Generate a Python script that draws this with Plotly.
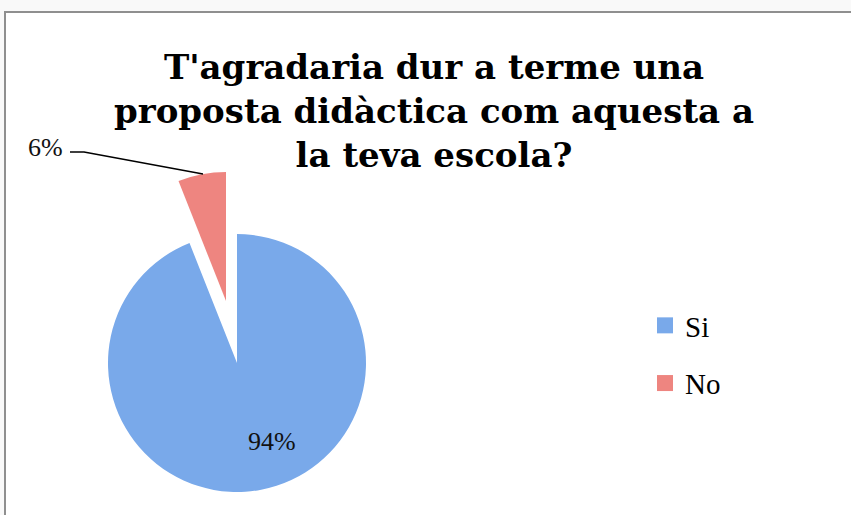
import plotly.graph_objects as go

W, H = 851, 515

labels = ["Si", "No"]
values = [94, 6]
colors = ["#79a9ea", "#ee8580"]
title_lines = ["T'agradaria dur a terme una", "proposta didàctica com aquesta a", "la teva escola?"]

# pie geometry in pixels (pulled slice drawn as its own trace)
cx, cy, r = 237, 363, 129
pcx, pcy = 226, 301


def dom(x, y, rad):
    return dict(x=[(x - rad) / W, (x + rad) / W],
                y=[1 - (y + rad) / H, 1 - (y - rad) / H])


clear = "rgba(0,0,0,0)"

fig = go.Figure()

fig.add_trace(go.Pie(
    labels=labels, values=values, sort=False, direction="clockwise", rotation=0,
    marker=dict(colors=[colors[0], clear], line=dict(width=0)),
    textinfo="none", hoverinfo="label+percent", showlegend=False,
    domain=dom(cx, cy, r),
))
fig.add_trace(go.Pie(
    labels=labels, values=values, sort=False, direction="clockwise", rotation=0,
    marker=dict(colors=[clear, colors[1]], line=dict(width=0)),
    textinfo="none", hoverinfo="label+percent", showlegend=False,
    domain=dom(pcx, pcy, r),
))

# legend entries
for lab, col in zip(labels, colors):
    fig.add_trace(go.Scatter(
        x=[None], y=[None], mode="markers", name=lab, legendgroup=lab,
        marker=dict(symbol="square", size=16, color=col),
    ))

tot = sum(values)
pct = [f"{round(v * 100 / tot)}%" for v in values]

lbl_font = dict(family="Liberation Serif", size=26, color="#111")
fig.add_annotation(x=272 / W, y=1 - 441 / H, xref="paper", yref="paper",
                   xanchor="center", yanchor="middle",
                   text=pct[0], showarrow=False, font=lbl_font)
fig.add_annotation(x=45 / W, y=1 - 147 / H, xref="paper", yref="paper",
                   xanchor="center", yanchor="middle",
                   text=pct[1], showarrow=False, font=lbl_font)

# leader line for the small slice
pts = [(70, 152), (84, 152), (203, 174)]
path = "M " + " L ".join(f"{x / W} {1 - y / H}" for x, y in pts)
fig.add_shape(type="path", path=path, xref="paper", yref="paper",
              line=dict(color="black", width=1.5))

# chart frame
fig.add_shape(type="rect", xref="paper", yref="paper", layer="below",
              x0=5 / W, x1=1.1, y0=-0.1, y1=1 - 12 / H,
              line=dict(color="#8f8f8f", width=2), fillcolor="white")

fig.update_layout(
    width=W, height=H,
    margin=dict(l=0, r=0, t=0, b=0),
    paper_bgcolor="#f9f9f9", plot_bgcolor=clear,
    xaxis=dict(visible=False), yaxis=dict(visible=False),
    title=dict(text="<br>".join(title_lines), x=434 / W, xanchor="center",
               y=1 - 79 / H, yanchor="top",
               font=dict(family="DejaVu Serif", size=34, color="black", weight="bold")),
    legend=dict(x=645 / W, y=1 - 300 / H, xanchor="left", yanchor="top",
                tracegroupgap=17, bgcolor=clear,
                font=dict(family="Liberation Serif", size=29, color="black")),
)

fig.write_html("out.html", config={"displayModeBar": False},
               post_script="document.body.style.margin='0';document.body.style.overflow='hidden';")
